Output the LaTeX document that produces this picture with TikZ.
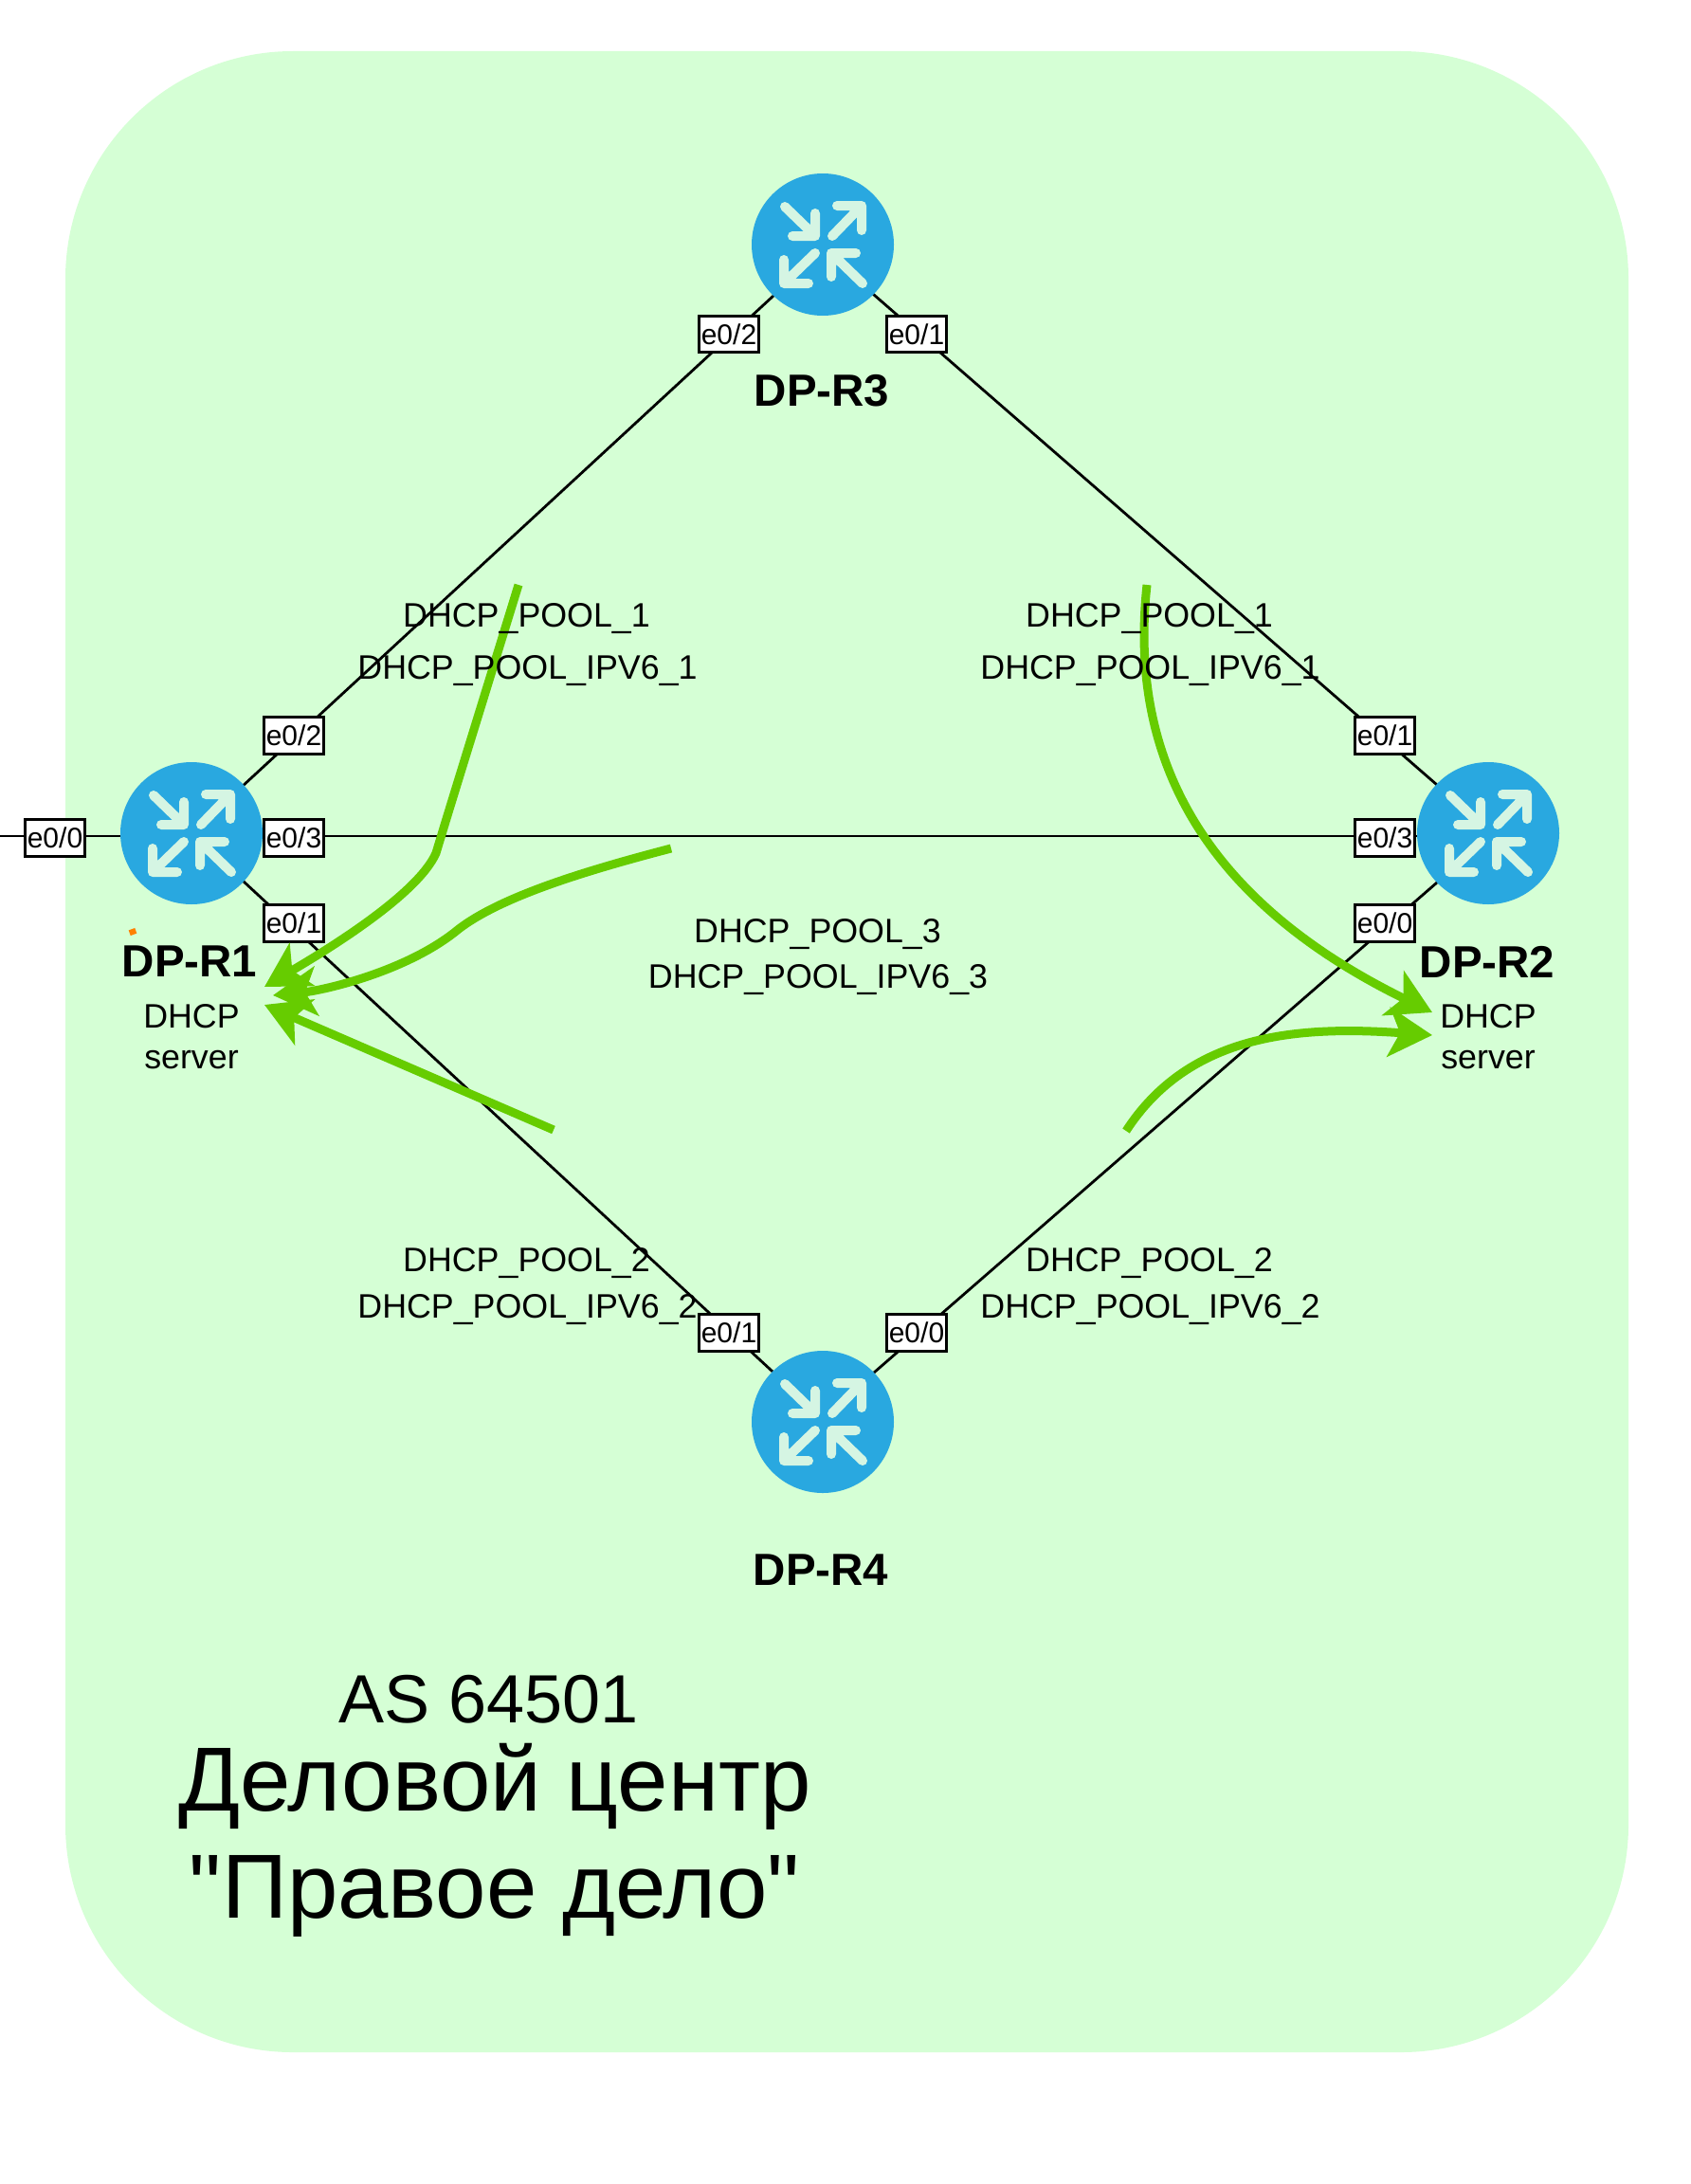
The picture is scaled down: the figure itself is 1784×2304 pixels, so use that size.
\documentclass[tikz,border=0pt]{standalone}
\usepackage{fontspec}
\setmainfont{Liberation Sans}
\newfontfamily\titlefont{Liberation Sans}
\usetikzlibrary{arrows.meta,backgrounds}
\definecolor{zonebg}{HTML}{D5FFD5}
\definecolor{routerblue}{HTML}{29A8E0}
\definecolor{iconpale}{HTML}{D5F5E3}
\definecolor{flowgreen}{HTML}{66CC00}
\definecolor{dotorange}{HTML}{FF8000}
\pgfdeclarelayer{zone}
\pgfsetlayers{zone,background,main}
\tikzset{
  router/.style={circle,fill=routerblue,draw=none,minimum size=150pt,inner sep=0pt},
  portbox/.style={rectangle,draw=black,fill=white,line width=3pt,minimum width=63pt,minimum height=38.5pt,inner sep=0pt,font=\fontsize{30}{34}\selectfont},
  link/.style={draw=black,line width=2.8pt},
  hname/.style={font=\fontsize{47.5}{54}\selectfont\bfseries,inner sep=0pt},
  small/.style={font=\fontsize{35.8}{43}\selectfont,inner sep=0pt,align=center},
  title/.style={inner sep=0pt,anchor=base},
  flow/.style={draw=flowgreen,line width=9pt,-{Stealth[length=46pt,width=52pt,inset=12pt]}},
  iconarrow/.style={draw=iconpale,line width=10pt,line cap=round,line join=round},
}
\newcommand{\routericon}[1]{%
  \begin{scope}[shift={(#1.center)}]
    \draw[iconarrow] (-40,-40) -- (-8,-9) (-8,-33) -- (-8,-9) -- (-32,-9);
    \draw[iconarrow] (10,-9) -- (41,-41) (15,-41) -- (41,-41) -- (41,-15);
    \draw[iconarrow] (-8,9) -- (-41,41) (-41,16) -- (-41,41) -- (-15,41);
    \draw[iconarrow] (42,41) -- (9,9) (9,34) -- (9,9) -- (35,9);
  \end{scope}}
\begin{document}
\begin{tikzpicture}[x=1pt,y=-1pt]
\useasboundingbox (0,0) rectangle (1784,2304);
\begin{pgfonlayer}{zone}
  \node[fill=zonebg,draw=none,rounded corners=240pt,minimum width=1649pt,minimum height=2111pt,inner sep=0pt] (zonebox) at (893.5,1109.5) {};
\end{pgfonlayer}
% routers
\node[router] (r1) at (202,879) {};
\node[router] (r2) at (1570,879) {};
\node[router] (r3) at (868,258) {};
\node[router] (r4) at (868,1500) {};
\routericon{r1}\routericon{r2}\routericon{r3}\routericon{r4}
% ports
\node[portbox] (p1a) at (310,776) {e0/2};
\node[portbox] (p1b) at (310,884) {e0/3};
\node[portbox] (p1c) at (310,974) {e0/1};
\node[portbox] (p1d) at (58,884) {e0/0};
\node[portbox] (p2a) at (1461,776) {e0/1};
\node[portbox] (p2b) at (1461,884) {e0/3};
\node[portbox] (p2c) at (1461,974) {e0/0};
\node[portbox] (p3a) at (769,352.5) {e0/2};
\node[portbox] (p3b) at (967,352.5) {e0/1};
\node[portbox] (p4a) at (769,1406) {e0/1};
\node[portbox] (p4b) at (967,1406) {e0/0};
\coordinate (wan) at (0,882);
\begin{pgfonlayer}{background}
  \draw[link] (r1.center) -- ([yshift=-6pt]r3.center);
  \draw[link] ([yshift=4pt]r2.center) -- ([yshift=-6pt]r3.center);
  \draw[link] (r1.center) -- ([yshift=4pt]r4.center);
  \draw[link] ([yshift=-5pt]r2.center) -- ([yshift=5pt]r4.center);
  \draw[link] ([yshift=-3pt]r1.center) -- ([yshift=-3pt]r2.center);
  \draw[link] ([yshift=-3pt]r1.center) -- (wan);
\end{pgfonlayer}
% flows
\coordinate (f1a) at (547,617); \coordinate (f1b) at (279,1041);
\coordinate (f2a) at (708,895); \coordinate (f2b) at (288,1050);
\coordinate (f3a) at (584,1192); \coordinate (f3b) at (279,1060);
\coordinate (f4a) at (1210,617); \coordinate (f4b) at (1511,1068);
\coordinate (f5a) at (1188,1193); \coordinate (f5b) at (1511,1092);
\draw[flow] (f1a) .. controls (500,770) and (475,850) .. (460,900) .. controls (440,945) and (340,1005) .. (f1b);
\draw[flow] (f2a) .. controls (620,918) and (530,945) .. (484,980) .. controls (430,1025) and (340,1045) .. (f2b);
\draw[flow] (f3a) -- (f3b);
\draw[flow] (f4a) .. controls (1190,800) and (1270,950) .. (f4b);
\draw[flow] (f5a) .. controls (1255,1090) and (1370,1082) .. (f5b);
% names
\node[hname] (n1) at (200,1014.5) {DP-R1};
\node[hname] (n2) at (1569,1014.5) {DP-R2};
\node[hname] (n3) at (867,412.5) {DP-R3};
\node[hname] (n4) at (866,1656) {DP-R4};
\node[small] (s1) at (202,1094) {DHCP\\server};
\node[small] (s2) at (1570,1094) {DHCP\\server};
\node[fill=dotorange,minimum width=7pt,minimum height=6pt,inner sep=0pt,rotate=20] (dot) at (140,983) {};
% pools
\node[small] (a1) at (555.5,653) {DHCP\_POOL\_1};
\node[small] (a2) at (556.5,707.5) {DHCP\_POOL\_IPV6\_1};
\node[small] (b1) at (1212.5,653) {DHCP\_POOL\_1};
\node[small] (b2) at (1213.5,707.5) {DHCP\_POOL\_IPV6\_1};
\node[small] (c1) at (862.5,985.5) {DHCP\_POOL\_3};
\node[small] (c2) at (863,1034) {DHCP\_POOL\_IPV6\_3};
\node[small] (d1) at (555.5,1333) {DHCP\_POOL\_2};
\node[small] (d2) at (556.5,1382) {DHCP\_POOL\_IPV6\_2};
\node[small] (e1) at (1212.5,1333) {DHCP\_POOL\_2};
\node[small] (e2) at (1213.5,1382) {DHCP\_POOL\_IPV6\_2};
% title
\node[title,font=\fontsize{72}{80}\selectfont] (t1) at (515.5,1817) {AS 64501};
\node[title,font=\fontsize{96}{110}\selectfont] (t2) at (522,1910) {Деловой центр};
\node[title,font=\titlefont\fontsize{96}{110}\selectfont] (t3) at (522,2023) {"Правое дело"};
\end{tikzpicture}
\end{document}
